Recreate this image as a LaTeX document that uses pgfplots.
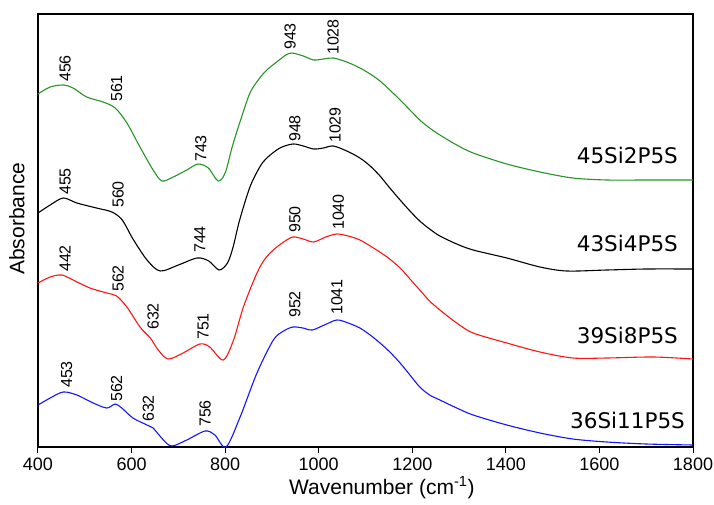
\documentclass[border=0pt]{standalone}
\usepackage{fontspec}
\setmainfont{Liberation Sans}
\newfontfamily\verd{DejaVu Sans}
\usepackage{pgfplots}
\pgfplotsset{compat=1.18}
\definecolor{ftgreen}{RGB}{38,148,38}
\definecolor{ftred}{RGB}{255,20,20}
\definecolor{ftblue}{RGB}{20,20,255}

\begin{document}
\begin{tikzpicture}
\begin{axis}[
    width=655pt, height=433pt, scale only axis,
    xmin=400, xmax=1800, ymin=0, ymax=433,
    xtick={400,600,...,1800},
    ytick=\empty,
    tick pos=bottom, tick align=outside,
    major tick length=6pt,
    axis line style={line width=1.3pt},
    every tick/.style={black, line width=1pt},
    /pgf/number format/assume math mode=true,
    /pgf/number format/set thousands separator={},
    ticklabel style={font=\fontsize{18}{20}\selectfont},
    xticklabel style={yshift=-1pt},
    xlabel={Wavenumber (cm\textsuperscript{-1})},
    ylabel={Absorbance},
    label style={font=\fontsize{21}{24}\selectfont},
    xlabel style={at={(axis description cs:0.525,0)}, anchor=north, yshift=-26pt},
    ylabel style={at={(axis description cs:0,0.527)}, anchor=south, yshift=10pt},
    every axis plot/.append style={smooth, tension=0.5, line width=1.1pt},
    clip=false,
]
% 45Si2P5S
\addplot[ftgreen] coordinates {
(400,353) (426,360) (454,362) (475,359) (504,350) (539,345) (565,339) (590,324)
(618,300) (646,277) (665,266) (689,270) (718,277) (742,283) (764,279) (785,266)
(800,274) (815,300) (831,324) (853,354) (874,369) (889,377) (910,385) (930,392)
(943,394) (967,391) (989,387) (1010,388) (1031,389) (1060,385) (1088,379)
(1110,373) (1131,366) (1152,357) (1174,347) (1195,337) (1216,327) (1237,319)
(1259,312) (1295,302) (1330,294) (1402,283) (1473,275) (1543,269) (1616,267)
(1700,267) (1800,267)
};
% 43Si4P5S
\addplot[black] coordinates {
(400,234) (426,242) (454,249) (483,244) (525,239) (558,235) (580,227) (603,208)
(633,187) (661,176) (700,182) (740,189) (765,186) (787,177) (805,184) (817,200)
(831,227) (853,260) (874,280) (889,289) (917,299) (945,303) (967,301) (989,298)
(1010,299) (1031,301) (1060,296) (1088,289) (1110,281) (1131,271) (1152,259)
(1174,247) (1195,236) (1216,226) (1237,218) (1259,211) (1295,203) (1330,197)
(1402,189) (1473,180) (1530,176) (1616,177) (1700,178) (1800,178)
};
% 39Si8P5S
\addplot[ftred] coordinates {
(400,164) (426,170) (451,172) (475,167) (511,159) (547,154) (568,151) (590,140)
(618,120) (640,109) (657,97) (678,88) (710,94) (746,103) (767,100) (796,87)
(818,107) (839,140) (868,174) (885,188) (903,197) (925,205) (945,210) (967,208)
(989,205) (1015,210) (1039,213) (1063,211) (1088,207) (1117,199) (1146,190)
(1174,179) (1195,168) (1216,157) (1237,146) (1259,137) (1295,124) (1330,114)
(1402,104) (1473,95) (1543,89) (1616,89) (1715,90) (1800,88)
};
% 36Si11P5S
\addplot[ftblue] coordinates {
(400,42) (426,49) (454,55) (483,52) (518,44) (547,39) (565,43) (579,39)
(603,29) (633,22) (646,19) (668,7) (686,1) (718,7) (757,16) (778,12) (802,0)
(832,30) (868,74) (903,107) (925,116) (945,120) (966,119) (986,117) (1012,122)
(1039,127) (1063,124) (1088,119) (1110,112) (1131,104) (1152,95) (1174,84)
(1195,72) (1216,60) (1237,52) (1259,47) (1295,39) (1330,32) (1402,22) (1473,14)
(1543,8) (1616,5) (1700,3) (1800,2)
};
% peak annotations
\begin{scope}[every node/.style={rotate=90, anchor=west, inner sep=0pt,
    font=\fontsize{16}{18}\selectfont}]
\node at (axis cs:458,365) {456};
\node at (axis cs:568,345) {561};
\node at (axis cs:748,285) {743};
\node at (axis cs:939,397) {943};
\node at (axis cs:1031,392) {1028};
\node at (axis cs:458,252) {455};
\node at (axis cs:571,239) {560};
\node at (axis cs:746,194) {744};
\node at (axis cs:949,305) {948};
\node at (axis cs:1035,304) {1029};
\node at (axis cs:458,175) {442};
\node at (axis cs:571,155) {562};
\node at (axis cs:646,117) {632};
\node at (axis cs:753,107) {751};
\node at (axis cs:949,214) {950};
\node at (axis cs:1042,217) {1040};
\node at (axis cs:461,59) {453};
\node at (axis cs:568,45) {562};
\node at (axis cs:636,25) {632};
\node at (axis cs:757,20) {756};
\node at (axis cs:949,129) {952};
\node at (axis cs:1039,132) {1041};
\end{scope}
% sample labels
\begin{scope}[every node/.style={anchor=east, inner sep=0pt,
    font=\verd\fontsize{21.5}{24}\selectfont}]
\node at (axis cs:1768,292) {45Si2P5S};
\node at (axis cs:1768,204) {43Si4P5S};
\node at (axis cs:1768,112) {39Si8P5S};
\node at (axis cs:1783,27) {36Si11P5S};
\end{scope}
\end{axis}
\pgfresetboundingbox
\path (current axis.south west) ++(-38pt,-57pt) coordinate (bl);
\path (current axis.north east) ++(21pt,14pt) coordinate (tr);
\useasboundingbox (bl) rectangle (tr);
\end{tikzpicture}
\end{document}
